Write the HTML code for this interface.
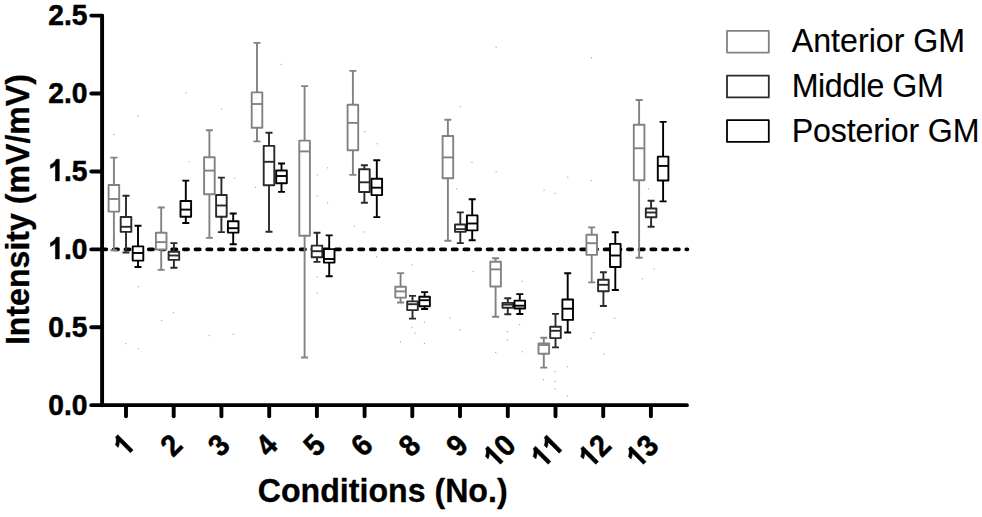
<!DOCTYPE html>
<html><head><meta charset="utf-8"><title>Chart</title>
<style>
html,body{margin:0;padding:0;background:#fff;}
body{width:982px;height:517px;overflow:hidden;}
svg{display:block;}
text{font-family:"Liberation Sans",sans-serif;fill:#000;}
.b{font-weight:bold;stroke:#000;stroke-width:0.5px;stroke-linejoin:round;fill:#000;}
</style></head><body>
<svg width="982" height="517" viewBox="0 0 982 517">
<rect width="982" height="517" fill="#fff"/>
<g fill="#a0a0a0"><rect x="137.8" y="286.1" width="1.1" height="1.1"/><rect x="172.8" y="312.2" width="1.1" height="1.1"/><rect x="161.1" y="320.1" width="1.1" height="1.1"/><rect x="208.8" y="335.1" width="1.1" height="1.1"/><rect x="232.8" y="333.8" width="1.1" height="1.1"/><rect x="125.2" y="343.1" width="1.1" height="1.1"/><rect x="137.8" y="348.1" width="1.1" height="1.1"/><rect x="316.8" y="276.3" width="1.1" height="1.1"/><rect x="316.8" y="292.6" width="1.1" height="1.1"/><rect x="411.6" y="264.3" width="1.1" height="1.1"/><rect x="472.6" y="270.9" width="1.1" height="1.1"/><rect x="521.7" y="280.8" width="1.1" height="1.1"/><rect x="653.6" y="268.3" width="1.1" height="1.1"/><rect x="641.9" y="278.2" width="1.1" height="1.1"/><rect x="423.8" y="321.6" width="1.1" height="1.1"/><rect x="449.4" y="317.4" width="1.1" height="1.1"/><rect x="459.3" y="329.2" width="1.1" height="1.1"/><rect x="411.6" y="327.1" width="1.1" height="1.1"/><rect x="414.6" y="332.6" width="1.1" height="1.1"/><rect x="399.9" y="341.3" width="1.1" height="1.1"/><rect x="423.8" y="342.8" width="1.1" height="1.1"/><rect x="506.9" y="331.1" width="1.1" height="1.1"/><rect x="506.9" y="339.4" width="1.1" height="1.1"/><rect x="495.2" y="351.9" width="1.1" height="1.1"/><rect x="521.7" y="351.2" width="1.1" height="1.1"/><rect x="519.1" y="324.1" width="1.1" height="1.1"/><rect x="593.2" y="332.1" width="1.1" height="1.1"/><rect x="590.6" y="338.1" width="1.1" height="1.1"/><rect x="614.4" y="317.8" width="1.1" height="1.1"/><rect x="603.4" y="353.4" width="1.1" height="1.1"/><rect x="566.8" y="366.2" width="1.1" height="1.1"/><rect x="554.7" y="371.1" width="1.1" height="1.1"/><rect x="542.9" y="379.1" width="1.1" height="1.1"/><rect x="554.7" y="380.9" width="1.1" height="1.1"/><rect x="554.7" y="388.2" width="1.1" height="1.1"/><rect x="566.8" y="395.6" width="1.1" height="1.1"/><rect x="376.1" y="256.2" width="1.1" height="1.1"/><rect x="280.6" y="63.8" width="1.1" height="1.1"/><rect x="185.3" y="92.2" width="1.1" height="1.1"/><rect x="221.1" y="108.4" width="1.1" height="1.1"/><rect x="137.5" y="115.4" width="1.1" height="1.1"/><rect x="113.4" y="133.9" width="1.1" height="1.1"/><rect x="188.6" y="161.3" width="1.1" height="1.1"/><rect x="234.1" y="177.5" width="1.1" height="1.1"/><rect x="255.0" y="186.8" width="1.1" height="1.1"/><rect x="316.8" y="174.3" width="1.1" height="1.1"/><rect x="327.1" y="167.3" width="1.1" height="1.1"/><rect x="316.8" y="195.2" width="1.1" height="1.1"/><rect x="327.1" y="202.2" width="1.1" height="1.1"/><rect x="364.1" y="131.1" width="1.1" height="1.1"/><rect x="376.8" y="143.2" width="1.1" height="1.1"/><rect x="353.9" y="225.4" width="1.1" height="1.1"/><rect x="363.2" y="231.4" width="1.1" height="1.1"/><rect x="495.6" y="46.7" width="1.1" height="1.1"/><rect x="590.9" y="57.2" width="1.1" height="1.1"/><rect x="459.8" y="106.0" width="1.1" height="1.1"/><rect x="471.4" y="161.8" width="1.1" height="1.1"/><rect x="495.6" y="171.0" width="1.1" height="1.1"/><rect x="567.2" y="176.6" width="1.1" height="1.1"/><rect x="590.6" y="179.9" width="1.1" height="1.1"/><rect x="543.5" y="189.6" width="1.1" height="1.1"/><rect x="554.6" y="192.8" width="1.1" height="1.1"/><rect x="456.1" y="188.2" width="1.1" height="1.1"/><rect x="648.0" y="188.2" width="1.1" height="1.1"/></g>
<g fill="#000"><rect x="100.20" y="247.40" width="7.90" height="3.8" rx="1.7" ry="1.7"/><rect x="111.89" y="247.40" width="7.90" height="3.8" rx="1.7" ry="1.7"/><rect x="123.57" y="247.40" width="7.90" height="3.8" rx="1.7" ry="1.7"/><rect x="135.26" y="247.40" width="7.90" height="3.8" rx="1.7" ry="1.7"/><rect x="146.94" y="247.40" width="7.90" height="3.8" rx="1.7" ry="1.7"/><rect x="158.63" y="247.40" width="7.90" height="3.8" rx="1.7" ry="1.7"/><rect x="170.32" y="247.40" width="7.90" height="3.8" rx="1.7" ry="1.7"/><rect x="182.00" y="247.40" width="7.90" height="3.8" rx="1.7" ry="1.7"/><rect x="193.69" y="247.40" width="7.90" height="3.8" rx="1.7" ry="1.7"/><rect x="205.37" y="247.40" width="7.90" height="3.8" rx="1.7" ry="1.7"/><rect x="217.06" y="247.40" width="7.90" height="3.8" rx="1.7" ry="1.7"/><rect x="228.75" y="247.40" width="7.90" height="3.8" rx="1.7" ry="1.7"/><rect x="240.43" y="247.40" width="7.90" height="3.8" rx="1.7" ry="1.7"/><rect x="252.12" y="247.40" width="7.90" height="3.8" rx="1.7" ry="1.7"/><rect x="263.80" y="247.40" width="7.90" height="3.8" rx="1.7" ry="1.7"/><rect x="275.49" y="247.40" width="7.90" height="3.8" rx="1.7" ry="1.7"/><rect x="287.18" y="247.40" width="7.90" height="3.8" rx="1.7" ry="1.7"/><rect x="298.86" y="247.40" width="7.90" height="3.8" rx="1.7" ry="1.7"/><rect x="310.55" y="247.40" width="7.90" height="3.8" rx="1.7" ry="1.7"/><rect x="322.23" y="247.40" width="7.90" height="3.8" rx="1.7" ry="1.7"/><rect x="333.92" y="247.40" width="7.90" height="3.8" rx="1.7" ry="1.7"/><rect x="345.61" y="247.40" width="7.90" height="3.8" rx="1.7" ry="1.7"/><rect x="357.29" y="247.40" width="7.90" height="3.8" rx="1.7" ry="1.7"/><rect x="368.98" y="247.40" width="7.90" height="3.8" rx="1.7" ry="1.7"/><rect x="380.66" y="247.40" width="7.90" height="3.8" rx="1.7" ry="1.7"/><rect x="392.35" y="247.40" width="7.90" height="3.8" rx="1.7" ry="1.7"/><rect x="404.04" y="247.40" width="7.90" height="3.8" rx="1.7" ry="1.7"/><rect x="415.72" y="247.40" width="7.90" height="3.8" rx="1.7" ry="1.7"/><rect x="427.41" y="247.40" width="7.90" height="3.8" rx="1.7" ry="1.7"/><rect x="439.09" y="247.40" width="7.90" height="3.8" rx="1.7" ry="1.7"/><rect x="450.78" y="247.40" width="7.90" height="3.8" rx="1.7" ry="1.7"/><rect x="462.47" y="247.40" width="7.90" height="3.8" rx="1.7" ry="1.7"/><rect x="474.15" y="247.40" width="7.90" height="3.8" rx="1.7" ry="1.7"/><rect x="485.84" y="247.40" width="7.90" height="3.8" rx="1.7" ry="1.7"/><rect x="497.52" y="247.40" width="7.90" height="3.8" rx="1.7" ry="1.7"/><rect x="509.21" y="247.40" width="7.90" height="3.8" rx="1.7" ry="1.7"/><rect x="520.90" y="247.40" width="7.90" height="3.8" rx="1.7" ry="1.7"/><rect x="532.58" y="247.40" width="7.90" height="3.8" rx="1.7" ry="1.7"/><rect x="544.27" y="247.40" width="7.90" height="3.8" rx="1.7" ry="1.7"/><rect x="555.95" y="247.40" width="7.90" height="3.8" rx="1.7" ry="1.7"/><rect x="567.64" y="247.40" width="7.90" height="3.8" rx="1.7" ry="1.7"/><rect x="579.33" y="247.40" width="7.90" height="3.8" rx="1.7" ry="1.7"/><rect x="591.01" y="247.40" width="7.90" height="3.8" rx="1.7" ry="1.7"/><rect x="602.70" y="247.40" width="7.90" height="3.8" rx="1.7" ry="1.7"/><rect x="614.38" y="247.40" width="7.90" height="3.8" rx="1.7" ry="1.7"/><rect x="626.07" y="247.40" width="7.90" height="3.8" rx="1.7" ry="1.7"/><rect x="637.76" y="247.40" width="7.90" height="3.8" rx="1.7" ry="1.7"/><rect x="649.44" y="247.40" width="7.90" height="3.8" rx="1.7" ry="1.7"/><rect x="661.13" y="247.40" width="7.90" height="3.8" rx="1.7" ry="1.7"/><rect x="672.81" y="247.40" width="7.90" height="3.8" rx="1.7" ry="1.7"/><rect x="684.50" y="247.40" width="4.70" height="3.8" rx="1.7" ry="1.7"/></g>
<path stroke="#828282" stroke-width="1.9" fill="none" d="M113.9 157.6V185.0M113.9 211.6V250.3M110.4 157.6H117.4M110.4 250.3H117.4"/>
<path stroke="#2a2a2a" stroke-width="1.9" fill="none" d="M126.0 195.7V217.0M126.0 231.9V252.5M122.5 195.7H129.5M122.5 252.5H129.5"/>
<path stroke="#000000" stroke-width="1.9" fill="none" d="M138.0 225.8V246.4M138.0 260.6V267.0M134.5 225.8H141.5M134.5 267.0H141.5"/>
<path stroke="#828282" stroke-width="1.9" fill="none" d="M161.2 207.5V232.8M161.2 249.5V269.9M157.7 207.5H164.7M157.7 269.9H164.7"/>
<path stroke="#2a2a2a" stroke-width="1.9" fill="none" d="M173.9 243.1V251.8M173.9 259.9V267.8M170.4 243.1H177.4M170.4 267.8H177.4"/>
<path stroke="#000000" stroke-width="1.9" fill="none" d="M185.8 180.6V201.0M185.8 216.8V223.0M182.3 180.6H189.3M182.3 223.0H189.3"/>
<path stroke="#828282" stroke-width="1.9" fill="none" d="M209.4 130.3V157.2M209.4 194.2V237.9M205.9 130.3H212.9M205.9 237.9H212.9"/>
<path stroke="#2a2a2a" stroke-width="1.9" fill="none" d="M221.4 177.6V195.0M221.4 216.8V232.1M217.9 177.6H224.9M217.9 232.1H224.9"/>
<path stroke="#000000" stroke-width="1.9" fill="none" d="M233.2 213.5V221.3M233.2 232.6V244.2M229.7 213.5H236.7M229.7 244.2H236.7"/>
<path stroke="#828282" stroke-width="1.9" fill="none" d="M257.0 42.9V92.4M257.0 127.7V141.4M253.5 42.9H260.5M253.5 141.4H260.5"/>
<path stroke="#2a2a2a" stroke-width="1.9" fill="none" d="M269.0 132.7V145.9M269.0 185.3V231.7M265.5 132.7H272.5M265.5 231.7H272.5"/>
<path stroke="#000000" stroke-width="1.9" fill="none" d="M281.5 163.5V170.5M281.5 183.2V191.9M278.0 163.5H285.0M278.0 191.9H285.0"/>
<path stroke="#828282" stroke-width="1.9" fill="none" d="M304.6 86.1V140.6M304.6 235.7V357.5M301.1 86.1H308.1M301.1 357.5H308.1"/>
<path stroke="#2a2a2a" stroke-width="1.9" fill="none" d="M317.0 232.8V245.6M317.0 257.2V261.9M313.5 232.8H320.5M313.5 261.9H320.5"/>
<path stroke="#000000" stroke-width="1.9" fill="none" d="M329.2 235.4V249.1M329.2 262.6V276.3M325.7 235.4H332.7M325.7 276.3H332.7"/>
<path stroke="#828282" stroke-width="1.9" fill="none" d="M352.9 70.9V104.7M352.9 150.3V174.9M349.4 70.9H356.4M349.4 174.9H356.4"/>
<path stroke="#2a2a2a" stroke-width="1.9" fill="none" d="M364.4 165.3V169.2M364.4 192.0V202.8M360.9 165.3H367.9M360.9 202.8H367.9"/>
<path stroke="#000000" stroke-width="1.9" fill="none" d="M376.8 160.2V178.7M376.8 195.1V217.1M373.3 160.2H380.3M373.3 217.1H380.3"/>
<path stroke="#828282" stroke-width="1.9" fill="none" d="M400.6 273.1V286.7M400.6 297.6V302.5M397.1 273.1H404.1M397.1 302.5H404.1"/>
<path stroke="#2a2a2a" stroke-width="1.9" fill="none" d="M412.5 295.9V301.4M412.5 310.1V318.6M409.0 295.9H416.0M409.0 318.6H416.0"/>
<path stroke="#000000" stroke-width="1.9" fill="none" d="M424.6 292.1V296.8M424.6 306.2V309.0M421.1 292.1H428.1M421.1 309.0H428.1"/>
<path stroke="#828282" stroke-width="1.9" fill="none" d="M447.9 119.7V136.0M447.9 178.2V240.7M444.4 119.7H451.4M444.4 240.7H451.4"/>
<path stroke="#2a2a2a" stroke-width="1.9" fill="none" d="M460.3 212.4V224.5M460.3 231.9V243.1M456.8 212.4H463.8M456.8 243.1H463.8"/>
<path stroke="#000000" stroke-width="1.9" fill="none" d="M472.2 199.2V215.4M472.2 230.4V240.2M468.7 199.2H475.7M468.7 240.2H475.7"/>
<path stroke="#828282" stroke-width="1.9" fill="none" d="M495.6 258.2V261.7M495.6 286.5V316.8M492.1 258.2H499.1M492.1 316.8H499.1"/>
<path stroke="#2a2a2a" stroke-width="1.9" fill="none" d="M507.8 298.2V302.9M507.8 307.8V314.3M504.3 298.2H511.3M504.3 314.3H511.3"/>
<path stroke="#000000" stroke-width="1.9" fill="none" d="M519.8 294.1V300.6M519.8 308.5V314.0M516.3 294.1H523.3M516.3 314.0H523.3"/>
<path stroke="#828282" stroke-width="1.9" fill="none" d="M543.8 337.7V343.4M543.8 353.8V367.6M540.3 337.7H547.3M540.3 367.6H547.3"/>
<path stroke="#2a2a2a" stroke-width="1.9" fill="none" d="M555.5 313.9V326.8M555.5 338.1V347.4M552.0 313.9H559.0M552.0 347.4H559.0"/>
<path stroke="#000000" stroke-width="1.9" fill="none" d="M567.7 273.2V299.5M567.7 319.9V332.5M564.2 273.2H571.2M564.2 332.5H571.2"/>
<path stroke="#828282" stroke-width="1.9" fill="none" d="M591.7 227.4V234.8M591.7 254.9V282.4M588.2 227.4H595.2M588.2 282.4H595.2"/>
<path stroke="#2a2a2a" stroke-width="1.9" fill="none" d="M603.4 272.3V279.8M603.4 291.2V306.0M599.9 272.3H606.9M599.9 306.0H606.9"/>
<path stroke="#000000" stroke-width="1.9" fill="none" d="M615.3 232.2V243.9M615.3 267.0V290.0M611.8 232.2H618.8M611.8 290.0H618.8"/>
<path stroke="#828282" stroke-width="1.9" fill="none" d="M639.1 100.0V124.7M639.1 180.2V257.8M635.6 100.0H642.6M635.6 257.8H642.6"/>
<path stroke="#2a2a2a" stroke-width="1.9" fill="none" d="M651.1 200.8V208.5M651.1 217.2V226.7M647.6 200.8H654.6M647.6 226.7H654.6"/>
<path stroke="#000000" stroke-width="1.9" fill="none" d="M663.1 121.9V156.6M663.1 180.5V201.4M659.6 121.9H666.6M659.6 201.4H666.6"/>
<g stroke="#828282" stroke-width="1.9" fill="none" stroke-linejoin="round"><rect x="108.6" y="185.0" width="10.6" height="26.6" fill="#fff"/><path d="M108.6 199.0H119.2"/></g>
<g stroke="#2a2a2a" stroke-width="1.9" fill="none" stroke-linejoin="round"><rect x="120.7" y="217.0" width="10.6" height="14.9" fill="#fff"/><path d="M120.7 226.8H131.3"/></g>
<g stroke="#000000" stroke-width="1.9" fill="none" stroke-linejoin="round"><rect x="132.7" y="246.4" width="10.6" height="14.2" fill="#fff"/><path d="M132.7 253.0H143.3"/></g>
<g stroke="#828282" stroke-width="1.9" fill="none" stroke-linejoin="round"><rect x="155.9" y="232.8" width="10.6" height="16.7" fill="#fff"/><path d="M155.9 242.1H166.5"/></g>
<g stroke="#2a2a2a" stroke-width="1.9" fill="none" stroke-linejoin="round"><rect x="168.6" y="251.8" width="10.6" height="8.1" fill="#fff"/><path d="M168.6 255.5H179.2"/></g>
<g stroke="#000000" stroke-width="1.9" fill="none" stroke-linejoin="round"><rect x="180.5" y="201.0" width="10.6" height="15.8" fill="#fff"/><path d="M180.5 209.6H191.1"/></g>
<g stroke="#828282" stroke-width="1.9" fill="none" stroke-linejoin="round"><rect x="204.1" y="157.2" width="10.6" height="37.0" fill="#fff"/><path d="M204.1 170.6H214.7"/></g>
<g stroke="#2a2a2a" stroke-width="1.9" fill="none" stroke-linejoin="round"><rect x="216.1" y="195.0" width="10.6" height="21.8" fill="#fff"/><path d="M216.1 205.5H226.7"/></g>
<g stroke="#000000" stroke-width="1.9" fill="none" stroke-linejoin="round"><rect x="227.9" y="221.3" width="10.6" height="11.3" fill="#fff"/><path d="M227.9 228.2H238.5"/></g>
<g stroke="#828282" stroke-width="1.9" fill="none" stroke-linejoin="round"><rect x="251.7" y="92.4" width="10.6" height="35.3" fill="#fff"/><path d="M251.7 104.0H262.3"/></g>
<g stroke="#2a2a2a" stroke-width="1.9" fill="none" stroke-linejoin="round"><rect x="263.7" y="145.9" width="10.6" height="39.4" fill="#fff"/><path d="M263.7 161.8H274.3"/></g>
<g stroke="#000000" stroke-width="1.9" fill="none" stroke-linejoin="round"><rect x="276.2" y="170.5" width="10.6" height="12.7" fill="#fff"/><path d="M276.2 176.0H286.8"/></g>
<g stroke="#828282" stroke-width="1.9" fill="none" stroke-linejoin="round"><rect x="299.3" y="140.6" width="10.6" height="95.1" fill="#fff"/><path d="M299.3 151.4H309.9"/></g>
<g stroke="#2a2a2a" stroke-width="1.9" fill="none" stroke-linejoin="round"><rect x="311.7" y="245.6" width="10.6" height="11.6" fill="#fff"/><path d="M311.7 251.2H322.3"/></g>
<g stroke="#000000" stroke-width="1.9" fill="none" stroke-linejoin="round"><rect x="323.9" y="249.1" width="10.6" height="13.5" fill="#fff"/><path d="M323.9 259.0H334.5"/></g>
<g stroke="#828282" stroke-width="1.9" fill="none" stroke-linejoin="round"><rect x="347.6" y="104.7" width="10.6" height="45.6" fill="#fff"/><path d="M347.6 122.9H358.2"/></g>
<g stroke="#2a2a2a" stroke-width="1.9" fill="none" stroke-linejoin="round"><rect x="359.1" y="169.2" width="10.6" height="22.8" fill="#fff"/><path d="M359.1 182.3H369.7"/></g>
<g stroke="#000000" stroke-width="1.9" fill="none" stroke-linejoin="round"><rect x="371.5" y="178.7" width="10.6" height="16.4" fill="#fff"/><path d="M371.5 187.7H382.1"/></g>
<g stroke="#828282" stroke-width="1.9" fill="none" stroke-linejoin="round"><rect x="395.3" y="286.7" width="10.6" height="10.9" fill="#fff"/><path d="M395.3 291.4H405.9"/></g>
<g stroke="#2a2a2a" stroke-width="1.9" fill="none" stroke-linejoin="round"><rect x="407.2" y="301.4" width="10.6" height="8.7" fill="#fff"/><path d="M407.2 304.2H417.8"/></g>
<g stroke="#000000" stroke-width="1.9" fill="none" stroke-linejoin="round"><rect x="419.3" y="296.8" width="10.6" height="9.4" fill="#fff"/><path d="M419.3 300.2H429.9"/></g>
<g stroke="#828282" stroke-width="1.9" fill="none" stroke-linejoin="round"><rect x="442.6" y="136.0" width="10.6" height="42.2" fill="#fff"/><path d="M442.6 157.4H453.2"/></g>
<g stroke="#2a2a2a" stroke-width="1.9" fill="none" stroke-linejoin="round"><rect x="455.0" y="224.5" width="10.6" height="7.4" fill="#fff"/><path d="M455.0 229.2H465.6"/></g>
<g stroke="#000000" stroke-width="1.9" fill="none" stroke-linejoin="round"><rect x="466.9" y="215.4" width="10.6" height="15.0" fill="#fff"/><path d="M466.9 223.5H477.5"/></g>
<g stroke="#828282" stroke-width="1.9" fill="none" stroke-linejoin="round"><rect x="490.3" y="261.7" width="10.6" height="24.8" fill="#fff"/><path d="M490.3 269.4H500.9"/></g>
<g stroke="#2a2a2a" stroke-width="1.9" fill="none" stroke-linejoin="round"><rect x="502.5" y="302.9" width="10.6" height="4.9" fill="#fff"/><path d="M502.5 304.6H513.1"/></g>
<g stroke="#000000" stroke-width="1.9" fill="none" stroke-linejoin="round"><rect x="514.5" y="300.6" width="10.6" height="7.9" fill="#fff"/><path d="M514.5 305.7H525.1"/></g>
<g stroke="#828282" stroke-width="1.9" fill="none" stroke-linejoin="round"><rect x="538.5" y="343.4" width="10.6" height="10.4" fill="#fff"/><path d="M538.5 345.0H549.1"/></g>
<g stroke="#2a2a2a" stroke-width="1.9" fill="none" stroke-linejoin="round"><rect x="550.2" y="326.8" width="10.6" height="11.3" fill="#fff"/><path d="M550.2 330.8H560.8"/></g>
<g stroke="#000000" stroke-width="1.9" fill="none" stroke-linejoin="round"><rect x="562.4" y="299.5" width="10.6" height="20.4" fill="#fff"/><path d="M562.4 308.7H573.0"/></g>
<g stroke="#828282" stroke-width="1.9" fill="none" stroke-linejoin="round"><rect x="586.4" y="234.8" width="10.6" height="20.1" fill="#fff"/><path d="M586.4 243.2H597.0"/></g>
<g stroke="#2a2a2a" stroke-width="1.9" fill="none" stroke-linejoin="round"><rect x="598.1" y="279.8" width="10.6" height="11.4" fill="#fff"/><path d="M598.1 284.8H608.7"/></g>
<g stroke="#000000" stroke-width="1.9" fill="none" stroke-linejoin="round"><rect x="610.0" y="243.9" width="10.6" height="23.1" fill="#fff"/><path d="M610.0 255.5H620.6"/></g>
<g stroke="#828282" stroke-width="1.9" fill="none" stroke-linejoin="round"><rect x="633.8" y="124.7" width="10.6" height="55.5" fill="#fff"/><path d="M633.8 148.3H644.4"/></g>
<g stroke="#2a2a2a" stroke-width="1.9" fill="none" stroke-linejoin="round"><rect x="645.8" y="208.5" width="10.6" height="8.7" fill="#fff"/><path d="M645.8 212.5H656.4"/></g>
<g stroke="#000000" stroke-width="1.9" fill="none" stroke-linejoin="round"><rect x="657.8" y="156.6" width="10.6" height="23.9" fill="#fff"/><path d="M657.8 165.9H668.4"/></g>
<g stroke="#000" stroke-width="3.9" fill="none" stroke-linecap="round">
<path d="M102.1 15.7V405.2"/>
<path d="M91.3 405.15H686.9"/>
<path d="M91.3 327.32H102"/>
<path d="M91.3 249.40H102"/>
<path d="M91.3 171.48H102"/>
<path d="M91.3 93.55H102"/>
<path d="M91.3 15.62H102"/>
<path d="M126.0 407V416.2"/>
<path d="M173.7 407V416.2"/>
<path d="M221.4 407V416.2"/>
<path d="M269.2 407V416.2"/>
<path d="M316.9 407V416.2"/>
<path d="M364.6 407V416.2"/>
<path d="M412.3 407V416.2"/>
<path d="M460.0 407V416.2"/>
<path d="M507.8 407V416.2"/>
<path d="M555.5 407V416.2"/>
<path d="M603.2 407V416.2"/>
<path d="M650.9 407V416.2"/>
</g>
<g transform="translate(87.4 415.10) scale(1 1.07)" font-size="28.2" class="b"><text x="-39.20" y="0">0</text><text x="-23.52" y="0">.</text><text x="-15.68" y="0">0</text></g>
<g transform="translate(87.4 337.03) scale(1 1.07)" font-size="28.2" class="b"><text x="-39.20" y="0">0</text><text x="-23.52" y="0">.</text><text x="-15.68" y="0">5</text></g>
<g transform="translate(87.4 258.95) scale(1 1.07)" font-size="28.2" class="b"><path d="M806 0H525V1059Q371 915 162 846V1101Q272 1137 401 1237.5T578 1472H806Z" transform="translate(-39.20 0) scale(0.01377 -0.01377)" stroke-width="36.3"/><text x="-23.52" y="0">.</text><text x="-15.68" y="0">0</text></g>
<g transform="translate(87.4 180.88) scale(1 1.07)" font-size="28.2" class="b"><path d="M806 0H525V1059Q371 915 162 846V1101Q272 1137 401 1237.5T578 1472H806Z" transform="translate(-39.20 0) scale(0.01377 -0.01377)" stroke-width="36.3"/><text x="-23.52" y="0">.</text><text x="-15.68" y="0">5</text></g>
<g transform="translate(87.4 102.80) scale(1 1.07)" font-size="28.2" class="b"><text x="-39.20" y="0">2</text><text x="-23.52" y="0">.</text><text x="-15.68" y="0">0</text></g>
<g transform="translate(87.4 24.73) scale(1 1.07)" font-size="28.2" class="b"><text x="-39.20" y="0">2</text><text x="-23.52" y="0">.</text><text x="-15.68" y="0">5</text></g>
<g transform="translate(136.40 446.80) rotate(-45) scale(1 1.07)" font-size="28.2" class="b"><path d="M806 0H525V1059Q371 915 162 846V1101Q272 1137 401 1237.5T578 1472H806Z" transform="translate(-15.68 0) scale(0.01377 -0.01377)" stroke-width="36.3"/></g>
<g transform="translate(184.04 446.85) rotate(-45) scale(1 1.07)" font-size="28.2" class="b"><text x="-15.68" y="0">2</text></g>
<g transform="translate(231.68 446.89) rotate(-45) scale(1 1.07)" font-size="28.2" class="b"><text x="-15.68" y="0">3</text></g>
<g transform="translate(279.32 446.94) rotate(-45) scale(1 1.07)" font-size="28.2" class="b"><text x="-15.68" y="0">4</text></g>
<g transform="translate(326.96 446.98) rotate(-45) scale(1 1.07)" font-size="28.2" class="b"><text x="-15.68" y="0">5</text></g>
<g transform="translate(374.60 447.03) rotate(-45) scale(1 1.07)" font-size="28.2" class="b"><text x="-15.68" y="0">6</text></g>
<g transform="translate(422.24 447.07) rotate(-45) scale(1 1.07)" font-size="28.2" class="b"><text x="-15.68" y="0">8</text></g>
<g transform="translate(469.88 447.12) rotate(-45) scale(1 1.07)" font-size="28.2" class="b"><text x="-15.68" y="0">9</text></g>
<g transform="translate(517.52 447.16) rotate(-45) scale(1 1.07)" font-size="28.2" class="b"><path d="M806 0H525V1059Q371 915 162 846V1101Q272 1137 401 1237.5T578 1472H806Z" transform="translate(-31.36 0) scale(0.01377 -0.01377)" stroke-width="36.3"/><text x="-15.68" y="0">0</text></g>
<g transform="translate(565.16 447.20) rotate(-45) scale(1 1.07)" font-size="28.2" class="b"><path d="M806 0H525V1059Q371 915 162 846V1101Q272 1137 401 1237.5T578 1472H806Z" transform="translate(-31.36 0) scale(0.01377 -0.01377)" stroke-width="36.3"/><path d="M806 0H525V1059Q371 915 162 846V1101Q272 1137 401 1237.5T578 1472H806Z" transform="translate(-15.68 0) scale(0.01377 -0.01377)" stroke-width="36.3"/></g>
<g transform="translate(612.80 447.25) rotate(-45) scale(1 1.07)" font-size="28.2" class="b"><path d="M806 0H525V1059Q371 915 162 846V1101Q272 1137 401 1237.5T578 1472H806Z" transform="translate(-31.36 0) scale(0.01377 -0.01377)" stroke-width="36.3"/><text x="-15.68" y="0">2</text></g>
<g transform="translate(660.44 447.30) rotate(-45) scale(1 1.07)" font-size="28.2" class="b"><path d="M806 0H525V1059Q371 915 162 846V1101Q272 1137 401 1237.5T578 1472H806Z" transform="translate(-31.36 0) scale(0.01377 -0.01377)" stroke-width="36.3"/><text x="-15.68" y="0">3</text></g>
<text class="b" style="stroke-width:0.3px" font-size="32.1" text-anchor="middle" transform="translate(29 209.6) rotate(-90) scale(1 1.05)">Intensity (mV/mV)</text>
<text class="b" style="stroke-width:0.3px" font-size="32.15" text-anchor="middle" transform="translate(382.7 502.4) scale(1 1.06)">Conditions (No.)</text>
<rect x="727.0" y="30.9" width="41.8" height="21.7" fill="#fff" stroke="#828282" stroke-width="1.8" stroke-linejoin="round"/>
<text font-size="32.2" letter-spacing="0" transform="translate(791.7 52.3) scale(1 1.05)" stroke="#000" stroke-width="0.1">Anterior GM</text>
<rect x="727.0" y="75.7" width="41.8" height="21.7" fill="#fff" stroke="#2a2a2a" stroke-width="1.8" stroke-linejoin="round"/>
<text font-size="32.2" letter-spacing="-0.44" transform="translate(791.7 97.1) scale(1 1.05)" stroke="#000" stroke-width="0.1">Middle GM</text>
<rect x="727.0" y="120.2" width="41.8" height="21.7" fill="#fff" stroke="#000000" stroke-width="1.8" stroke-linejoin="round"/>
<text font-size="32.2" letter-spacing="-0.16" transform="translate(791.7 141.9) scale(1 1.05)" stroke="#000" stroke-width="0.1">Posterior GM</text>
</svg></body></html>
